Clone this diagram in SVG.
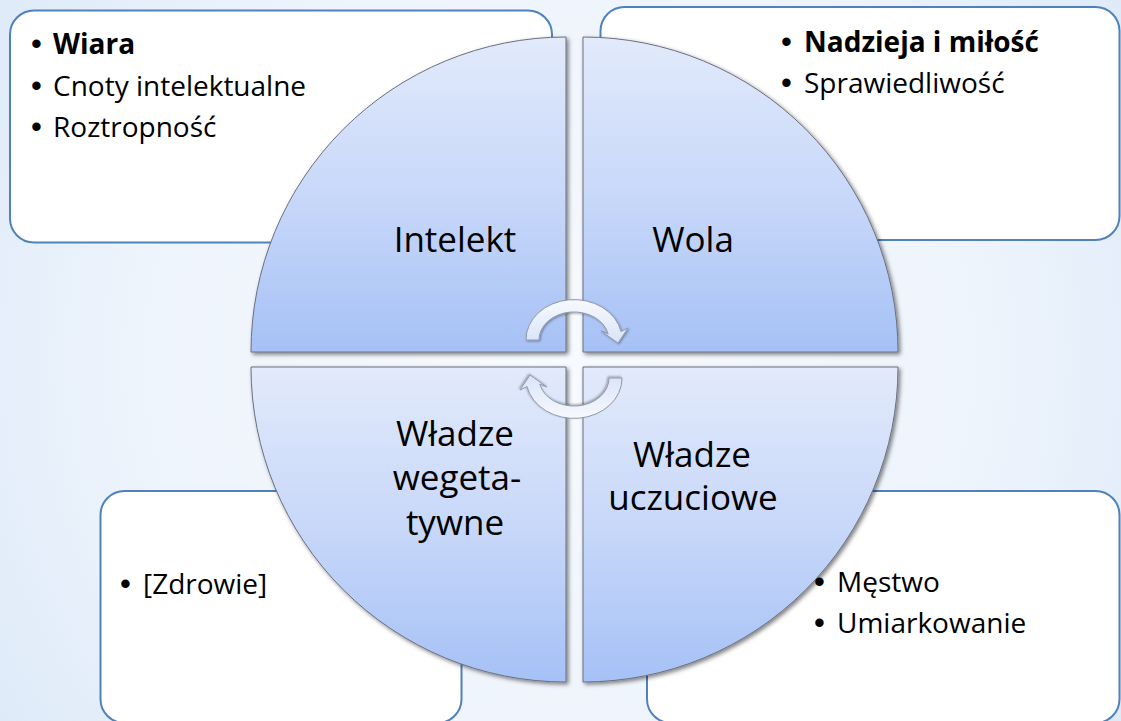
<svg xmlns="http://www.w3.org/2000/svg" width="1121" height="721" viewBox="0 0 1121 721">
  <defs>
    <radialGradient id="bg" cx="560" cy="360" r="700" gradientUnits="userSpaceOnUse">
      <stop offset="0" stop-color="#f7fafe"/>
      <stop offset="0.6" stop-color="#eef4fc"/>
      <stop offset="1" stop-color="#dce9f8"/>
    </radialGradient>
    <linearGradient id="quad" x1="0" y1="0" x2="0" y2="1">
      <stop offset="0" stop-color="#e2eafb"/>
      <stop offset="0.5" stop-color="#c8d8f9"/>
      <stop offset="1" stop-color="#a6c1f6"/>
    </linearGradient>
    <linearGradient id="arrowFill" x1="0" y1="0" x2="0" y2="1">
      <stop offset="0" stop-color="#f7f9fe"/>
      <stop offset="1" stop-color="#d9e4f8"/>
    </linearGradient>
    <filter id="shadow" x="-10%" y="-10%" width="120%" height="120%">
      <feDropShadow dx="2" dy="2" stdDeviation="2" flood-color="#000" flood-opacity="0.5"/>
    </filter>
    <filter id="ashadow" x="-20%" y="-20%" width="140%" height="140%">
      <feDropShadow dx="1" dy="1" stdDeviation="1.2" flood-color="#000" flood-opacity="0.35"/>
    </filter>
    <style>
      .box { fill: #ffffff; stroke: #4f81bd; stroke-width: 2; }
      .quad { fill: url(#quad); stroke: #6a7080; stroke-width: 1; filter: url(#shadow); }
      .arr { fill: url(#arrowFill); stroke: #9099a8; stroke-width: 1; filter: url(#ashadow); }
      .item { font-family: "Open Sans", "Noto Sans", "DejaVu Sans", sans-serif; font-size: 28px; fill: #000; }
      .bul { font-family: "Liberation Sans", Arial, sans-serif; font-size: 31px; font-weight: normal; }
      .bold { font-weight: bold; }
      .label { font-family: "Open Sans", "Noto Sans", "DejaVu Sans", sans-serif; font-size: 35px; fill: #000; text-anchor: middle; }
    </style>
    <path id="cyc" d="M 526 340 A 48 40 0 0 1 621 331.5 L 628 328 L 618 343 L 601 331 L 608.2 334 A 35 28 0 0 0 539 340 Z"/>
  </defs>

  <rect x="0" y="0" width="1121" height="721" fill="url(#bg)"/>

  <!-- boxes (shapes) -->
  <g id="box-intelekt"><rect class="box" x="10" y="10.5" width="542" height="232" rx="24"/></g>
  <g id="box-wola"><rect class="box" x="600.5" y="7" width="519" height="233" rx="24"/></g>
  <g id="box-wegetatywne"><rect class="box" x="100.5" y="491" width="361" height="232" rx="24"/></g>
  <g id="box-uczuciowe"><rect class="box" x="647" y="491" width="472.5" height="232" rx="24"/></g>

  <!-- quadrants -->
  <g id="quad-intelekt">
    <path class="quad" d="M 566 352 L 251 352 A 315 315 0 0 1 566 37 Z"/>
    <text class="label" x="455" y="252">Intelekt</text>
  </g>
  <g id="quad-wola">
    <path class="quad" d="M 583 352 L 583 37 A 315 315 0 0 1 898 352 Z"/>
    <text class="label" x="693" y="252">Wola</text>
  </g>
  <g id="quad-wegetatywne">
    <path class="quad" d="M 566 367 L 566 682 A 315 315 0 0 1 251 367 Z"/>
    <text class="label" x="455" y="446">Władze</text>
    <text class="label" x="457" y="490">wegeta-</text>
    <text class="label" x="455" y="535">tywne</text>
  </g>
  <g id="quad-uczuciowe">
    <path class="quad" d="M 583 367 L 898 367 A 315 315 0 0 1 583 682 Z"/>
    <text class="label" x="692" y="467">Władze</text>
    <text class="label" x="693" y="510">uczuciowe</text>
  </g>

  <!-- connectors: cycle arrows -->
  <g id="connectors">
    <use href="#cyc" class="arr"/>
    <use href="#cyc" class="arr" transform="rotate(180 574 359)"/>
  </g>

  <!-- box texts -->
  <g id="box-intelekt-text">
    <text class="item bold" y="54"><tspan class="bul" x="31">•</tspan><tspan x="53">Wiara</tspan></text>
    <text class="item" y="96"><tspan class="bul" x="31">•</tspan><tspan x="53">Cnoty intelektualne</tspan></text>
    <text class="item" y="137"><tspan class="bul" x="31">•</tspan><tspan x="53">Roztropność</tspan></text>
  </g>
  <g id="box-wola-text">
    <text class="item bold" y="52"><tspan class="bul" x="781">•</tspan><tspan x="804">Nadzieja i miłość</tspan></text>
    <text class="item" y="93"><tspan class="bul" x="781">•</tspan><tspan x="804">Sprawiedliwość</tspan></text>
  </g>
  <g id="box-wegetatywne-text">
    <text class="item" y="594"><tspan class="bul" x="120">•</tspan><tspan x="143">[Zdrowie]</tspan></text>
  </g>
  <g id="box-uczuciowe-text">
    <text class="item" y="592"><tspan class="bul" x="814">•</tspan><tspan x="837">Męstwo</tspan></text>
    <text class="item" y="633"><tspan class="bul" x="814">•</tspan><tspan x="837">Umiarkowanie</tspan></text>
  </g>
</svg>
